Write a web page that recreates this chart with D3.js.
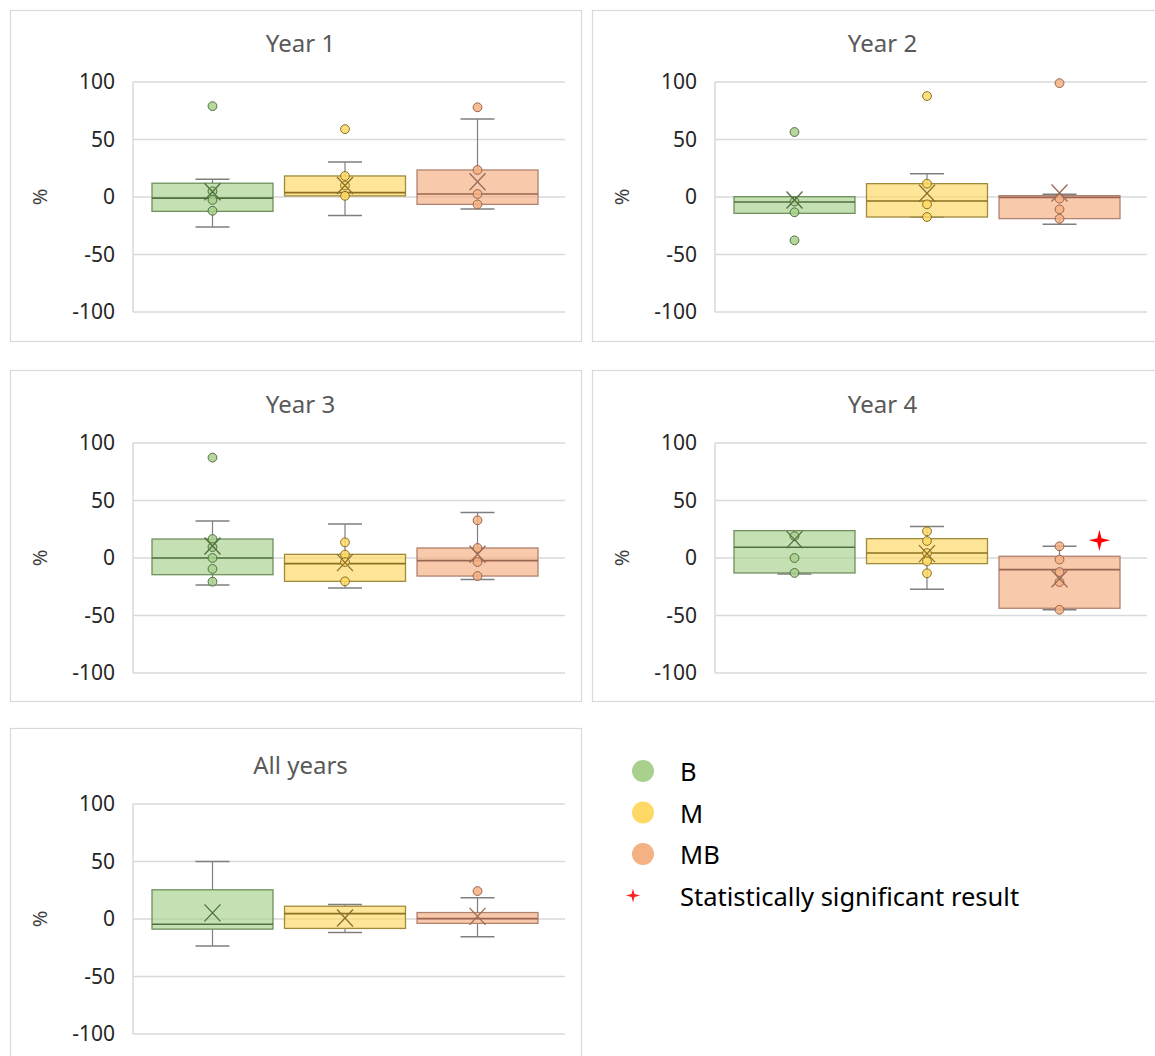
<!DOCTYPE html>
<html><head><meta charset="utf-8">
<script src="https://cdn.jsdelivr.net/npm/d3@7"></script>
<style>body{margin:0;background:#fff} svg{display:block} text{font-family:"Noto Sans",sans-serif}</style>
</head><body><svg id="c" width="1155" height="1056"></svg>
<script>
// ---------- data ----------
const panelTitles = ["Year 1","Year 2","Year 3","Year 4","All years"];
const seriesNames = ["B","M","MB"];
const yTickValues = [100,50,0,-50,-100];
const q1 = [[-12.5,1,-6.4],[-14.2,-17.4,-18.8],[-14.5,-20.3,-15.7],[-13,-4.9,-43.7],[-8.8,-8.2,-3.8]];
const median = [[-1,3.8,2.6],[-4.3,-3.5,-0.3],[0,-4.9,-2.3],[9.3,4.4,-10.1],[-4.6,4.7,0.3]];
const q3 = [[12,18.3,23.5],[0.3,11.6,1.2],[16.5,3.2,8.7],[23.8,16.8,1.5],[25.4,11.1,5.6]];
const whiskerHigh = [[15.4,30.4,67.8],[null,20.3,2.3],[32.2,29.6,39.5],[null,27.5,10.2],[50,12.6,18.4]];
const whiskerLow = [[-26,-16,-10.4],[null,-17.4,-23.8],[-23.5,-26,-18.8],[-14,-27.2,-44.9],[-23.4,-11.7,-15.5]];
const means = [[4.6,10,13.3],[-2.6,3.2,3.5],[10.4,-4,3.2],[16,3.8,-18],[5.3,0.9,2.3]];
const innerPoints = [
  [[5,-2.6,-12],[18.3,10,1],[23.5,2.6,-6.4]],
  [[-4,-13.3],[11.6,-6.4,-17.4],[-1.4,-10.7,-19]],
  [[16.5,9.5,0,-9.5,-20.6],[13.6,3,-3.5,-20.3],[32.8,8.7,-3.5,-15.7]],
  [[19,0,-13],[23.2,14.8,4.3,-2.9,-13.3],[10.2,-1.4,-12.2,-20.9,-45]],
  [[],[],[]]
];
const outliers = [
  [[79],[59],[78]],
  [[56.5,-37.7],[87.8],[99]],
  [[87.3],[],[]],
  [[],[],[]],
  [[],[],[24.3]]
];
const significant = [[null,null,null],[null,null,null],[null,null,null],[null,null,15.4],[null,null,null]];
const legendLabels = ["B","M","MB","Statistically significant result"];

// ---------- styles / layout ----------
const seriesColor = ["#a9d18e","#ffd966","#f4b183"];
const boxStroke = ["#6f8f5c","#a08a3c","#b08270"];
const medianStroke = ["#4f6f3f","#8a7020","#9a6450"];
const meanStroke = ["#4f6f3f","#8a7030","#9a6a55"];
const panelLayout = [
  {x:10,y:10,plotTop:82},{x:592,y:10,plotTop:82},
  {x:10,y:370,plotTop:443},{x:592,y:370,plotTop:443},
  {x:10,y:728,plotTop:804}
];
const panelW = 571, panelH = 331, plotOffset = 123, plotW = 432, plotH = 230;

const svg = d3.select("#c");

// 4-point star symbol
const star4 = {
  draw(ctx, size) {
    const r = Math.sqrt(size) * 0.75, ri = r * 0.28;
    for (let i = 0; i < 8; i++) {
      const a = -Math.PI / 2 + i * Math.PI / 4;
      const rr = i % 2 === 0 ? r : ri;
      const px = Math.cos(a) * rr, py = Math.sin(a) * rr;
      if (i === 0) ctx.moveTo(px, py); else ctx.lineTo(px, py);
    }
    ctx.closePath();
  }
};

panelTitles.forEach((title, p) => {
  const L = panelLayout[p];
  const g = svg.append("g");
  const plotLeft = L.x + plotOffset;
  g.append("rect").attr("x", L.x + 0.5).attr("y", L.y + 0.5)
    .attr("width", panelW).attr("height", panelH)
    .attr("fill", "#fff").attr("stroke", "#d9d9d9").attr("stroke-width", 1.2);

  const y = d3.scaleLinear().domain([-100, 100]).range([L.plotTop + plotH, L.plotTop]);
  const x = d3.scaleBand().domain(seriesNames)
    .range([plotLeft + 19, plotLeft + 405]).paddingInner(0.087).paddingOuter(0);

  // title
  g.append("text").attr("x", L.x + panelW / 2 + 5).attr("y", L.plotTop - 40)
    .attr("text-anchor", "middle").attr("dominant-baseline", "central")
    .attr("font-size", 24).attr("fill", "#595959").text(title);

  // grid
  g.selectAll("line.grid").data(yTickValues).join("line")
    .attr("x1", plotLeft).attr("x2", plotLeft + plotW)
    .attr("y1", d => y(d)).attr("y2", d => y(d))
    .attr("stroke", "#d9d9d9").attr("stroke-width", 1.5);
  g.append("line").attr("x1", plotLeft).attr("x2", plotLeft)
    .attr("y1", y(100)).attr("y2", y(-100))
    .attr("stroke", "#d9d9d9").attr("stroke-width", 1.5);

  // y axis
  const ax = g.append("g").attr("transform", `translate(${plotLeft},0)`)
    .call(d3.axisLeft(y).tickValues(yTickValues).tickSize(0).tickPadding(18)
      .tickFormat(d => String(d)));
  ax.select(".domain").remove();
  ax.selectAll("text").attr("font-size", 21).attr("fill", "#262626")
    .attr("font-family", "Noto Sans");

  // y label
  g.append("text").attr("transform", `translate(${L.x + 29},${y(0)}) rotate(-90)`)
    .attr("text-anchor", "middle").attr("dominant-baseline", "central")
    .attr("font-size", 20).attr("fill", "#404040").text("%");

  seriesNames.forEach((s, i) => {
    const x0 = x(s), bw = x.bandwidth(), cx = x0 + bw / 2;
    const sg = g.append("g");
    // whiskers
    const wh = whiskerHigh[p][i], wl = whiskerLow[p][i];
    if (wh !== null) {
      sg.append("line").attr("x1", cx).attr("x2", cx).attr("y1", y(q3[p][i])).attr("y2", y(wh))
        .attr("stroke", "#7f7f7f").attr("stroke-width", 1.2);
      sg.append("line").attr("x1", cx - 17).attr("x2", cx + 17).attr("y1", y(wh)).attr("y2", y(wh))
        .attr("stroke", "#7f7f7f").attr("stroke-width", 1.5);
    }
    if (wl !== null) {
      sg.append("line").attr("x1", cx).attr("x2", cx).attr("y1", y(q1[p][i])).attr("y2", y(wl))
        .attr("stroke", "#7f7f7f").attr("stroke-width", 1.2);
      sg.append("line").attr("x1", cx - 17).attr("x2", cx + 17).attr("y1", y(wl)).attr("y2", y(wl))
        .attr("stroke", "#7f7f7f").attr("stroke-width", 1.5);
    }
    // box
    sg.append("rect").attr("x", x0).attr("width", bw)
      .attr("y", y(q3[p][i])).attr("height", y(q1[p][i]) - y(q3[p][i]))
      .attr("fill", seriesColor[i]).attr("fill-opacity", 0.68)
      .attr("stroke", boxStroke[i]).attr("stroke-width", 1.3);
    // median
    sg.append("line").attr("x1", x0).attr("x2", x0 + bw)
      .attr("y1", y(median[p][i])).attr("y2", y(median[p][i]))
      .attr("stroke", medianStroke[i]).attr("stroke-width", 1.6);
    // points
    const pts = innerPoints[p][i].concat(outliers[p][i]);
    sg.selectAll("circle").data(pts).join("circle")
      .attr("cx", cx).attr("cy", d => y(d)).attr("r", 4.4)
      .attr("fill", seriesColor[i]).attr("fill-opacity", 0.85)
      .attr("stroke", medianStroke[i]).attr("stroke-width", 1);
    // mean X
    const my = y(means[p][i]);
    const xp = d3.path();
    xp.moveTo(cx - 8, my - 8.5); xp.lineTo(cx + 8, my + 8.5);
    xp.moveTo(cx + 8, my - 8.5); xp.lineTo(cx - 8, my + 8.5);
    sg.append("path").attr("d", xp.toString()).attr("fill", "none")
      .attr("stroke", meanStroke[i]).attr("stroke-width", 1.3);
    // significance star
    if (significant[p][i] !== null) {
      sg.append("path").attr("d", d3.symbol(star4, 200)())
        .attr("transform", `translate(${x0 + bw * 0.83},${y(significant[p][i])})`)
        .attr("fill", "#ff0000");
    }
  });
});

// legend
const lg = svg.append("g");
legendLabels.forEach((lab, i) => {
  const cy = 771 + i * 41.5;
  if (i < 3) {
    lg.append("circle").attr("cx", 643).attr("cy", cy).attr("r", 11).attr("fill", seriesColor[i]);
  } else {
    lg.append("path").attr("d", d3.symbol(star4, 90)())
      .attr("transform", `translate(633,${cy})`).attr("fill", "#ff2020");
  }
  lg.append("text").attr("x", 680).attr("y", cy + 10)
    .attr("font-size", 25.5).attr("fill", "#000").text(lab);
});
</script></body></html>
